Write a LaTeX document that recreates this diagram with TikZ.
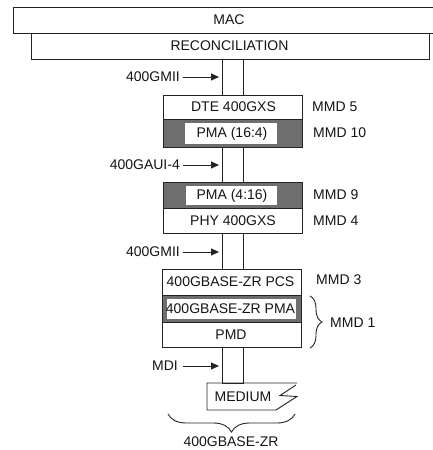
\documentclass[tikz,border=0pt]{standalone}
\usepackage{fontspec}
\setmainfont{Liberation Sans}
\usetikzlibrary{decorations.pathreplacing,arrows.meta}
\definecolor{pmagray}{RGB}{110,110,110}
\definecolor{ln}{RGB}{35,35,35}
\definecolor{tx}{RGB}{20,20,20}
\begin{document}
\begin{tikzpicture}[x=1pt,y=-1pt,
  font=\fontsize{14}{16}\selectfont,
  box/.style={draw=ln, line width=0.9pt},
  graybox/.style={draw=ln, line width=0.9pt, fill=pmagray},
  lbl/.style={inner sep=0pt, text=tx},
  arr/.style={draw=ln, line width=0.9pt, -{Triangle[length=8pt,width=7pt]}},
  chan/.style={draw=ln, line width=0.9pt},
  brc/.style={draw=ln, line width=0.9pt, decorate}
]
\useasboundingbox (0,0) rectangle (433,450);

% MAC and reconciliation
\draw[box] (13,7) rectangle (440,33);
\node[lbl] (mac) at (229,20) {MAC};
\draw[box] (31,33) rectangle (429,59);
\node[lbl] (rec) at (229.5,46) {RECONCILIATION};

% channel 1
\coordinate (c1a) at (222,59); \coordinate (c1b) at (243,59);
\coordinate (c1c) at (222,95); \coordinate (c1d) at (243,95);
\draw[chan] (c1a) -- (c1c) (c1b) -- (c1d);
\node[lbl, anchor=east] (gmii1) at (180,77) {400GMII};
\draw[arr] ([xshift=3pt]gmii1.east) -- (gmii1.east -| 219,0);

% DTE / PMA 16:4
\draw[box] (163,95) rectangle (302,119);
\node[lbl] (dte) at (233.5,107) {DTE 400GXS};
\draw[graybox] (163,119) rectangle (302,147);
\fill[white] (185,123) rectangle (277,144);
\node[lbl] (pma1) at (232,134) {PMA (16:4)};
\node[lbl, anchor=west] (mmd5) at (312,107) {MMD 5};
\node[lbl, anchor=west] (mmd10) at (313,133) {MMD 10};

% channel 2
\coordinate (c2a) at (222,147); \coordinate (c2b) at (243,147);
\coordinate (c2c) at (222,182); \coordinate (c2d) at (243,182);
\draw[chan] (c2a) -- (c2c) (c2b) -- (c2d);
\node[lbl, anchor=east] (gaui) at (180,165) {400GAUI-4};
\draw[arr] ([xshift=3pt]gaui.east) -- (gaui.east -| 219,0);

% PMA 4:16 / PHY
\draw[graybox] (163,182) rectangle (302,208);
\fill[white] (186,186) rectangle (277,205);
\node[lbl] (pma2) at (232,195.5) {PMA (4:16)};
\draw[box] (163,208) rectangle (302,233);
\node[lbl] (phy) at (233,221) {PHY 400GXS};
\node[lbl, anchor=west] (mmd9) at (313,195) {MMD 9};
\node[lbl, anchor=west] (mmd4) at (313,221) {MMD 4};

% channel 3
\coordinate (c3a) at (222,233); \coordinate (c3b) at (243,233);
\coordinate (c3c) at (222,269); \coordinate (c3d) at (243,269);
\draw[chan] (c3a) -- (c3c) (c3b) -- (c3d);
\node[lbl, anchor=east] (gmii2) at (180,252) {400GMII};
\draw[arr] ([xshift=3pt]gmii2.east) -- (gmii2.east -| 219,0);

% ZR PCS / PMA / PMD
\draw[box] (162,269) rectangle (301,295);
\node[lbl] (pcs) at (230.5,282) {400GBASE-ZR PCS};
\draw[graybox] (162,295) rectangle (301,322);
\fill[white] (167,298.5) rectangle (296,319);
\node[lbl] (pmazr) at (230.5,309) {400GBASE-ZR PMA};
\draw[box] (162,322) rectangle (301,347);
\node[lbl] (pmd) at (231,334.5) {PMD};
\node[lbl, anchor=west] (mmd3) at (316,280) {MMD 3};
\draw[brc, decoration={brace, amplitude=12pt}] (310,296) -- (310,348);
\node[lbl, anchor=west] (mmd1) at (330,323) {MMD 1};

% channel 4
\draw[chan] (222,347) rectangle (243,383);
\node[lbl, anchor=east] (mdi) at (178,366) {MDI};
\draw[arr] ([xshift=5pt]mdi.east) -- (mdi.east -| 219,0);

% medium
\draw[box] (297,383) -- (207,383) -- (207,410) -- (276,410) -- (297,396.5) -- (280,395.5) -- (296,385);
\node[lbl] (medium) at (243,396.5) {MEDIUM};

% bottom brace
\draw[brc, decoration={brace, amplitude=18pt}] (295,414) -- (168,414);
\node[lbl] (zr) at (231,441.5) {400GBASE-ZR};
\end{tikzpicture}
\end{document}
